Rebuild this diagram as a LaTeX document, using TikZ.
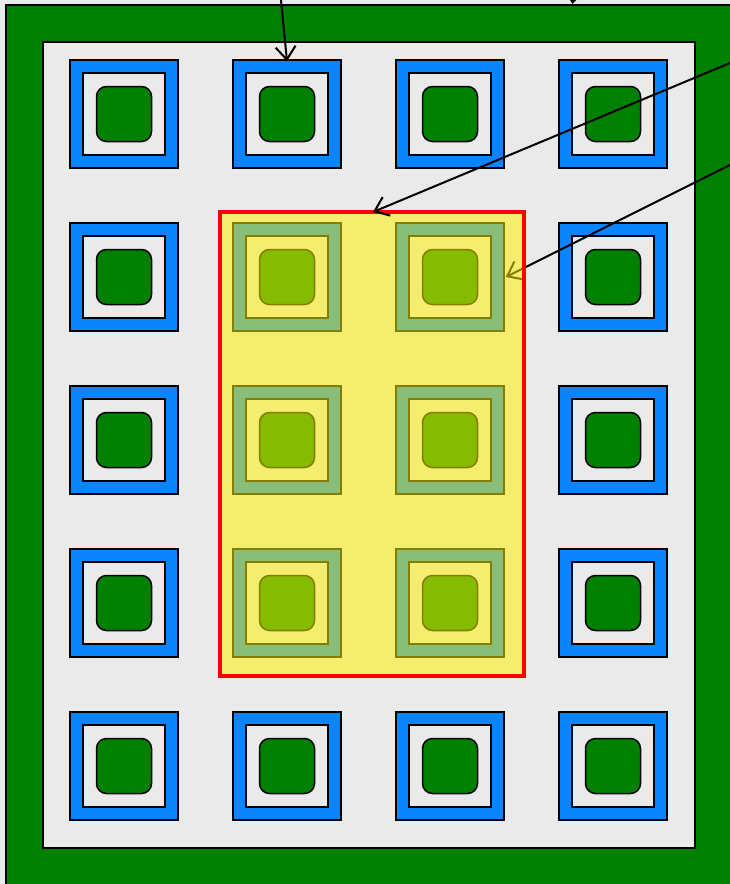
\documentclass[tikz,border=0pt]{standalone}
\usetikzlibrary{arrows.meta}
\definecolor{bgc}{HTML}{EBEBEB}
\definecolor{panel}{HTML}{EAEAEA}
\definecolor{darkg}{HTML}{008000}
\definecolor{bluec}{HTML}{0A84FF}
\tikzset{
  outerbox/.style={draw=black, line width=1.5pt, fill=bluec, minimum size=108pt, inner sep=0pt},
  innerbox/.style={draw=black, line width=1.5pt, fill=panel, minimum size=82pt, inner sep=0pt},
  corebox/.style={draw=black, line width=1.5pt, fill=darkg, minimum size=55pt, inner sep=0pt, rounded corners=10pt},
  pointer/.style={draw=black, line width=2pt, -{Straight Barb[length=13pt,width=20pt,line width=2pt]}},
  hilite/.style={draw=red, line width=3.5pt, fill=yellow, fill opacity=0.52, minimum width=304pt, minimum height=464pt, inner sep=0pt}
}
\begin{document}
\begin{tikzpicture}[x=1pt,y=-1pt]
\useasboundingbox (0,0) rectangle (730,884);
\clip (0,0) rectangle (730,884);
\fill[bgc] (0,0) rectangle (730,884);
\draw[line width=2pt, fill=darkg] (6,5) rectangle (770,920);
\node[draw=black, line width=2pt, fill=panel, minimum width=652pt, minimum height=806pt, inner sep=0pt] (panel) at (369,445) {};
\foreach \i/\x in {1/124,2/287,3/450,4/613}{
  \foreach \j/\y in {1/114,2/277,3/440,4/603,5/766}{
    \node[outerbox] (b-\i-\j) at (\x,\y) {};
    \node[innerbox] (n-\i-\j) at (\x,\y) {};
    \node[corebox] (c-\i-\j) at (\x,\y) {};
  }
}
\coordinate (s1) at (280,-10);
\coordinate (s2) at (576,-30);
\coordinate (t2) at (572.5,4);
\coordinate (s3) at (750,54.7);
\coordinate (s4) at (750,155);
\coordinate (hltop) at (373,212);
\draw[pointer] (s1) -- ([yshift=-2pt]b-2-1.north);
\draw[pointer] (s2) -- (t2);
\draw[pointer] (s4) -- ([xshift=1pt]b-3-2.east);
\node[hilite] (hl) at (372,444) {};
\draw[pointer] (s3) -- (hltop);
\end{tikzpicture}
\end{document}
